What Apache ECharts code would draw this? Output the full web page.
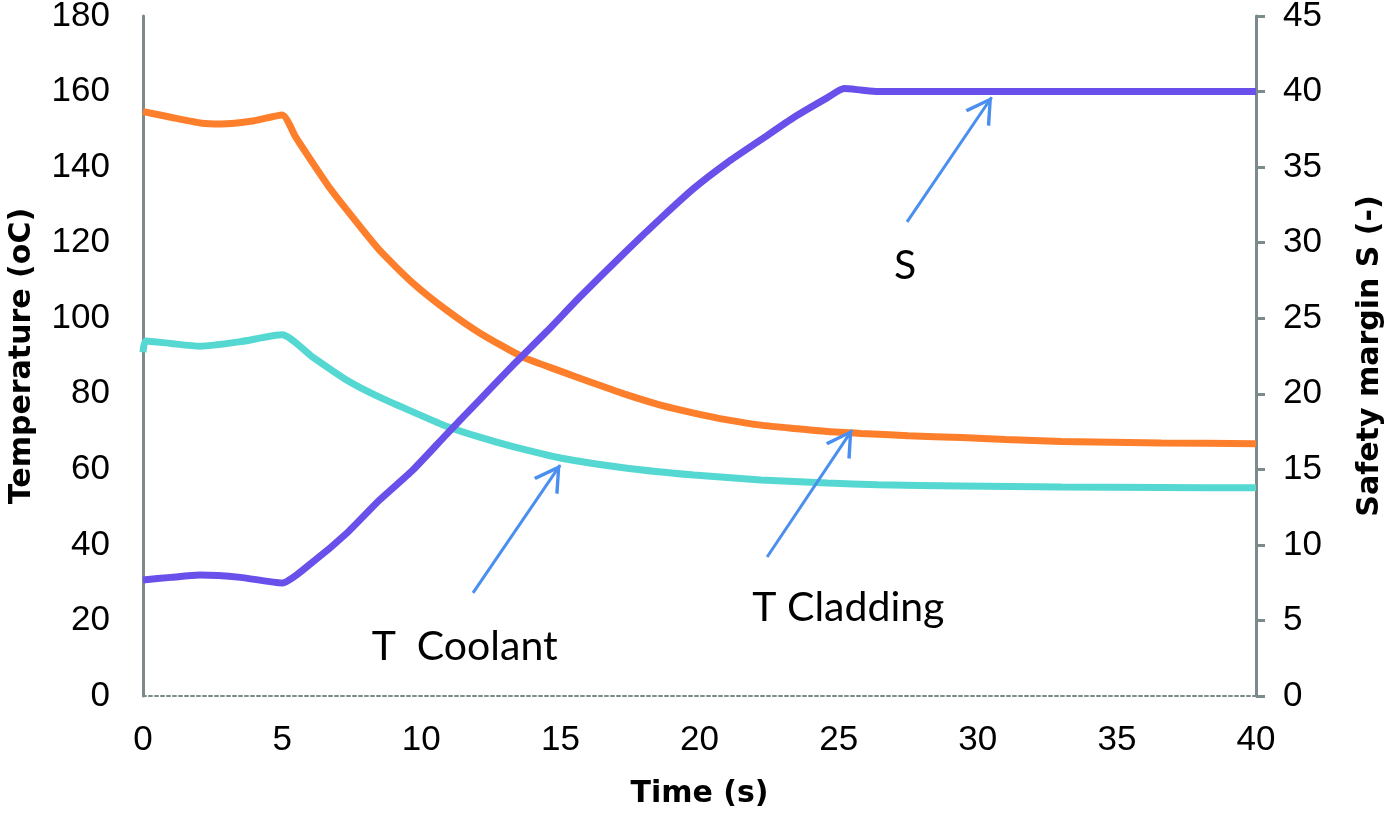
<!DOCTYPE html>
<html>
<head>
<meta charset="utf-8">
<script src="https://cdn.jsdelivr.net/npm/echarts@6/dist/echarts.min.js"></script>
<style>
html,body{margin:0;padding:0;background:#fff;}
#chart{width:1390px;height:818px;}
</style>
</head>
<body>
<div id="chart"></div>
<script>
// Time (s) and values
var cladTime = [0, 1, 2.05, 2.8, 3.95, 5, 5.5, 6.1, 6.7, 7.33, 8.5, 9.7, 10.9, 12.1, 13.66, 15, 16.2, 17.4, 18.6, 19.8, 21, 22.2, 23.4, 24.6, 25.8, 27.5, 29.4, 31, 33, 36.6, 40];
var cladTemp = [154.7, 153.2, 151.7, 151.4, 152.2, 153.8, 147.8, 141.1, 134.6, 128.6, 118, 109.3, 102.2, 96.1, 89.7, 86.0, 82.8, 79.7, 77, 74.9, 73.1, 71.7, 70.8, 70.0, 69.5, 68.9, 68.4, 67.9, 67.4, 67.0, 66.8];

var coolTime = [0, 0.1, 1, 2.05, 3.5, 5, 6.1, 7.33, 8.5, 9.7, 10.9, 12.1, 13.3, 15, 17.4, 19.8, 22.2, 24.6, 26.4, 29.4, 33, 36.6, 40];
var coolTemp = [91, 94.0, 93.3, 92.6, 93.8, 95.6, 89.7, 83.6, 79.1, 75.2, 71.4, 68.5, 66.0, 63.0, 60.3, 58.5, 57.2, 56.4, 55.9, 55.6, 55.3, 55.2, 55.1];

var sTime = [0, 1, 2.05, 3.5, 5, 6.1, 7.33, 8.5, 9.7, 10.9, 12.1, 13.3, 14.5, 15.7, 17.4, 18.6, 19.8, 21, 22.2, 23.4, 24.6, 25.2, 25.8, 26.4, 30, 35, 40];
var sValue = [7.68, 7.85, 8.0, 7.85, 7.48, 8.87, 10.79, 12.97, 14.96, 17.3, 19.6, 21.9, 24.1, 26.4, 29.5, 31.6, 33.6, 35.3, 36.8, 38.3, 39.6, 40.2, 40.1, 40.0, 40.0, 40.0, 40.0];

var xTicks = [0, 40, 5];
var leftTicks = [0, 180, 20];
var rightTicks = [0, 45, 5];

// annotations: label text, label centre [t, T], arrow start [t, T], arrow end [t, T]
var annoText = ['S', 'T  Coolant', 'T Cladding'];
var annoLabelPos = [[27.39, 114.0], [11.56, 13.0], [25.35, 23.3]];
var annoArrowFrom = [[27.46, 125.5], [11.86, 27.3], [22.43, 36.8]];
var annoArrowTo = [[30.5, 158.5], [14.99, 61.1], [25.48, 70.4]];

function zip(a, b) { return a.map(function (v, i) { return [v, b[i]]; }); }

var chart = echarts.init(document.getElementById('chart'), null, {renderer: 'canvas'});

var axisGray = '#7b8b8b';
var arrowColor = '#4a8ff0';
var arrowHead = 'path://M0,-11 L0,-11 Z M0,0 L6,11 L4.7,11.6 L0,2.8 L-4.7,11.6 L-6,11 Z';
var tickFont = 'Liberation Sans, Arial';
var nameFont = 'DejaVu Sans';

var option = {
  animation: false,
  backgroundColor: '#ffffff',
  grid: {left: 143, right: 134, top: 16, bottom: 122, containLabel: false, outerBoundsMode: 'none'},
  xAxis: {
    type: 'value', min: xTicks[0], max: xTicks[1], interval: xTicks[2],
    name: 'Time (s)', nameLocation: 'middle', nameGap: 83,
    nameTextStyle: {fontFamily: nameFont, fontSize: 30, fontWeight: 'bold', color: '#000'},
    axisLine: {show: true, onZero: false, lineStyle: {color: axisGray, width: 2, type: [3, 3]}},
    axisTick: {show: false},
    splitLine: {show: false},
    axisLabel: {fontFamily: tickFont, fontSize: 35, color: '#000', margin: 27}
  },
  yAxis: [{
    type: 'value', min: leftTicks[0], max: leftTicks[1], interval: leftTicks[2], position: 'left',
    name: 'Temperature (oC)', nameLocation: 'middle', nameGap: 106, nameRotate: 90,
    nameTextStyle: {fontFamily: nameFont, fontSize: 30, fontWeight: 'bold', color: '#000'},
    axisLine: {show: true, lineStyle: {color: axisGray, width: 3}},
    axisTick: {show: false},
    splitLine: {show: false},
    axisLabel: {fontFamily: tickFont, fontSize: 35, color: '#000', margin: 33}
  }, {
    type: 'value', min: rightTicks[0], max: rightTicks[1], interval: rightTicks[2], position: 'right',
    name: 'Safety margin S (-)', nameLocation: 'middle', nameGap: 99, nameRotate: 90,
    nameTextStyle: {fontFamily: nameFont, fontSize: 30, fontWeight: 'bold', color: '#000'},
    axisLine: {show: true, lineStyle: {color: axisGray, width: 3}},
    axisTick: {show: true, inside: false, length: 9, lineStyle: {color: axisGray, width: 3}},
    splitLine: {show: false},
    axisLabel: {fontFamily: tickFont, fontSize: 35, color: '#000', margin: 27}
  }],
  series: [{
    name: 'T Cladding', type: 'line', yAxisIndex: 0, showSymbol: false, smooth: 0.2,
    data: zip(cladTime, cladTemp),
    lineStyle: {color: '#fe7f2b', width: 7}, z: 3
  }, {
    name: 'T Coolant', type: 'line', yAxisIndex: 0, showSymbol: false, smooth: 0.2,
    data: zip(coolTime, coolTemp),
    lineStyle: {color: '#55d8d2', width: 7}, z: 3
  }, {
    name: 'S', type: 'line', yAxisIndex: 1, showSymbol: false, smooth: 0.2,
    data: zip(sTime, sValue),
    lineStyle: {color: '#6a50ea', width: 7}, z: 4
  }, {
    name: 'annotations', type: 'line', yAxisIndex: 0, data: [], z: 5,
    markLine: {
      silent: true, animation: false,
      symbol: ['none', arrowHead], symbolSize: [30, 52],
      lineStyle: {color: arrowColor, width: 3, type: 'solid'},
      label: {show: false},
      data: annoArrowFrom.map(function (f, i) {
        return [{coord: f}, {coord: annoArrowTo[i]}];
      })
    },
    markPoint: {
      silent: true, animation: false, symbol: 'circle', symbolSize: 0,
      label: {show: true, position: 'inside', fontFamily: 'Lato, Open Sans', fontSize: 41, color: '#000', formatter: function (p) { return p.name; }},
      data: annoText.map(function (t, i) { return {name: t, coord: annoLabelPos[i]}; })
    }
  }]
};
chart.setOption(option);
</script>
</body>
</html>
